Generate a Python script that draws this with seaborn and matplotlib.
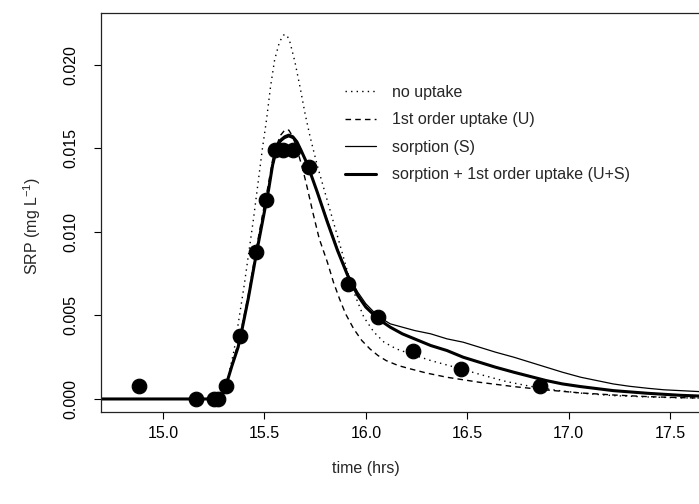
import matplotlib
matplotlib.use("Agg")
import matplotlib.pyplot as plt
import seaborn as sns

# observed SRP (points)
obs_time = [14.88, 15.16, 15.25, 15.27, 15.31, 15.38, 15.46, 15.51,
            15.55, 15.59, 15.64, 15.72, 15.91, 16.06, 16.23, 16.47, 16.86]
obs_srp = [0.0008, 0.0, 0.0, 0.0, 0.0008, 0.0038, 0.0088, 0.0119,
           0.0149, 0.0149, 0.0149, 0.0139, 0.0069, 0.0049, 0.0029, 0.0018, 0.0008]

# model curves
none_t = [14.69, 15.25, 15.29, 15.31, 15.35, 15.40, 15.445, 15.49, 15.51, 15.53,
          15.55, 15.57, 15.58, 15.595, 15.61, 15.625, 15.65, 15.675, 15.70, 15.725,
          15.76, 15.80, 15.84, 15.88, 15.91, 15.95, 15.99, 16.04, 16.09, 16.15,
          16.22, 16.32, 16.47, 16.56, 16.69, 16.81, 16.94, 17.06, 17.22, 17.39,
          17.55, 17.68]
none_c = [0.0, 0.0, 0.0002, 0.0007, 0.0029, 0.0068, 0.0107, 0.0150, 0.0167, 0.0187,
          0.0203, 0.0212, 0.0215, 0.0218, 0.0218, 0.0214, 0.0202, 0.0187, 0.0171, 0.0157,
          0.0140, 0.0123, 0.0106, 0.0089, 0.0076, 0.0061, 0.0049, 0.0040, 0.0034, 0.0030,
          0.0027, 0.0023, 0.0018, 0.00148, 0.00105, 0.00076, 0.00052, 0.00035, 0.0002, 0.00012,
          0.00007, 0.00005]

u_t = [14.69, 15.25, 15.28, 15.31, 15.34, 15.37, 15.39, 15.42, 15.46, 15.49,
       15.52, 15.54, 15.56, 15.58, 15.60, 15.62, 15.64, 15.66, 15.69, 15.71,
       15.74, 15.77, 15.81, 15.84, 15.87, 15.90, 15.94, 15.98, 16.02, 16.06,
       16.10, 16.16, 16.22, 16.30, 16.40, 16.56, 16.73, 16.89, 17.06, 17.22,
       17.39, 17.55, 17.68]
u_c = [0.0, 0.0, 0.0002, 0.0008, 0.0021, 0.0033, 0.0044, 0.0062, 0.0090, 0.0110,
       0.0129, 0.0143, 0.0152, 0.0158, 0.0161, 0.0161, 0.0157, 0.0150, 0.0137, 0.0127,
       0.0111, 0.0096, 0.0082, 0.0070, 0.0060, 0.0051, 0.0042, 0.0035, 0.0030, 0.0026,
       0.0023, 0.0020, 0.0018, 0.00155, 0.0013, 0.0010, 0.00074, 0.00054, 0.00036, 0.00024,
       0.00014, 0.00008, 0.00005]

s_t = [14.69, 15.26, 15.29, 15.31, 15.34, 15.37, 15.39, 15.42, 15.46, 15.49,
       15.52, 15.54, 15.56, 15.58, 15.60, 15.62, 15.64, 15.66, 15.68, 15.71,
       15.76, 15.81, 15.86, 15.91, 15.96, 16.00, 16.04, 16.08, 16.12, 16.18,
       16.24, 16.32, 16.40, 16.48, 16.56, 16.64, 16.73, 16.81, 16.89, 16.97,
       17.06, 17.14, 17.22, 17.30, 17.39, 17.47, 17.55, 17.68]
s_c = [0.0, 0.0, 0.0002, 0.0008, 0.0020, 0.0031, 0.0042, 0.0060, 0.0087, 0.0106,
       0.0125, 0.0139, 0.0149, 0.0154, 0.0156, 0.0157, 0.0156, 0.0153, 0.0149, 0.0141,
       0.0124, 0.0107, 0.0090, 0.0075, 0.0064, 0.0057, 0.0052, 0.0048, 0.0045, 0.0043,
       0.0041, 0.0039, 0.0036, 0.0034, 0.0031, 0.0028, 0.0025, 0.0022, 0.0019, 0.0016,
       0.0013, 0.0011, 0.0009, 0.00076, 0.00064, 0.00055, 0.0005, 0.00042]

us_t = [14.69, 15.26, 15.29, 15.31, 15.34, 15.37, 15.39, 15.42, 15.46, 15.49,
        15.52, 15.54, 15.56, 15.58, 15.60, 15.62, 15.64, 15.66, 15.68, 15.71,
        15.76, 15.81, 15.86, 15.91, 15.96, 16.00, 16.06, 16.12, 16.18, 16.24,
        16.32, 16.40, 16.48, 16.56, 16.64, 16.73, 16.81, 16.89, 16.97, 17.06,
        17.22, 17.39, 17.55, 17.68]
us_c = [0.0, 0.0, 0.0002, 0.0008, 0.0020, 0.0031, 0.0042, 0.0060, 0.0087, 0.0106,
        0.0125, 0.0140, 0.0150, 0.0155, 0.0157, 0.0158, 0.0157, 0.0154, 0.0149, 0.0141,
        0.0124, 0.0106, 0.0089, 0.0074, 0.0062, 0.0055, 0.0048, 0.0043, 0.0039, 0.0036,
        0.0032, 0.0029, 0.0025, 0.0022, 0.0019, 0.0016, 0.00135, 0.0011, 0.0009, 0.00074,
        0.0005, 0.00034, 0.00022, 0.00016]

x_ticks = [15.0, 15.5, 16.0, 16.5, 17.0, 17.5]
y_ticks = [0.0, 0.005, 0.010, 0.015, 0.020]

sns.set_style("ticks")
plt.rcParams['font.family'] = ['Liberation Sans', 'DejaVu Sans']
plt.rcParams['mathtext.fontset'] = 'custom'
plt.rcParams['mathtext.rm'] = 'Liberation Sans'
plt.rcParams['mathtext.default'] = 'regular'

fig = plt.figure(figsize=(6.99, 5.04), dpi=100)
# plot box runs off the right edge like the original
ax = fig.add_axes([101 / 699, 92 / 504, 604 / 699, 399 / 504])

sns.lineplot(x=none_t, y=none_c, ax=ax, color='black', lw=1.0,
             linestyle=(0, (1, 3)), label='no uptake')
sns.lineplot(x=u_t, y=u_c, ax=ax, color='black', lw=1.0,
             linestyle=(0, (4, 3)), label='1st order uptake (U)')
sns.lineplot(x=s_t, y=s_c, ax=ax, color='black', lw=0.9, label='sorption (S)')
sns.lineplot(x=us_t, y=us_c, ax=ax, color='black', lw=2.2,
             label='sorption + 1st order uptake (U+S)')
sns.scatterplot(x=obs_time, y=obs_srp, ax=ax, s=110, color='black',
                edgecolor='black', zorder=5, legend=False)

ax.set_xlim(14.694, 14.694 + 604 / 202.8)
ax.set_ylim(-0.00078, -0.00078 + 399 / 16700)

ax.set_xticks(x_ticks)
ax.set_xticklabels(["%.1f" % v for v in x_ticks])
ax.set_yticks(y_ticks)
ax.set_yticklabels(["%.3f" % v for v in y_ticks], rotation=90, va='center')
ax.tick_params(axis='both', labelsize=11.5, length=5, width=0.8,
               color='black', labelcolor='black')
ax.tick_params(axis='x', pad=5)
ax.tick_params(axis='y', pad=11)

for sp in ax.spines.values():
    sp.set_color('#222222')
    sp.set_linewidth(0.9)

ax.set_xlabel('time (hrs)', fontsize=11.5)
ax.set_ylabel('SRP (mg L$^{-1}$)', fontsize=11.5)
ax.xaxis.set_label_coords((366 - 101) / 604, -(468 - 412) / 399)
ax.yaxis.set_label_coords(-(101 - 32) / 604, (412 - 226) / 399)
ax.xaxis.label.set_va('center')
ax.yaxis.label.set_va('center')

ax.legend(loc='upper left', bbox_to_anchor=(345 / 699, (504 - 85) / 504),
          bbox_transform=fig.transFigure, frameon=False, fontsize=11.5,
          handlelength=1.95, handletextpad=1.0, labelspacing=0.78,
          borderpad=0, borderaxespad=0)

fig.savefig('out.png', dpi=100)
